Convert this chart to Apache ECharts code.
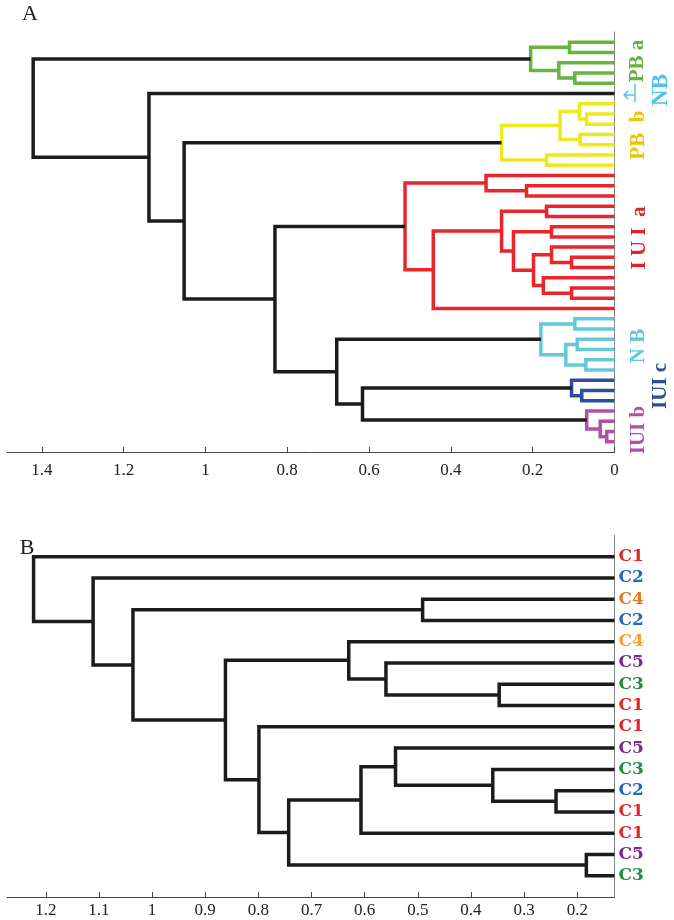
<!DOCTYPE html>
<html><head><meta charset="utf-8">
<script src="https://cdn.jsdelivr.net/npm/echarts@6/dist/echarts.min.js"></script>
<style>html,body{margin:0;padding:0;background:#fff}#c{width:674px;height:920px}</style>
</head><body><div id="c"></div>
<script>
// ---------- Panel A data (40 leaves, in display order top→bottom) ----------
const leafCountA = 40;
// merges: [childA, childB, height]; leaves are 1..40, merge k creates node 40+k
const mergesA = [
  [1, 2, 0.110], [4, 5, 0.097], [3, 42, 0.136], [41, 43, 0.205],            // PB a (41-44)
  [8, 9, 0.068], [7, 45, 0.086], [10, 11, 0.084], [46, 47, 0.133],
  [12, 13, 0.166], [48, 49, 0.276],                                          // PB b (45-50)
  [15, 16, 0.215], [14, 51, 0.314], [17, 18, 0.166], [19, 20, 0.154],
  [22, 23, 0.105], [21, 55, 0.154], [25, 26, 0.105], [24, 57, 0.174],
  [56, 58, 0.198], [54, 59, 0.247], [53, 60, 0.276], [61, 27, 0.443],
  [52, 62, 0.512],                                                           // IUI a (51-63)
  [28, 29, 0.097], [30, 31, 0.091], [32, 33, 0.070], [65, 66, 0.119],
  [64, 67, 0.180],                                                           // NB (64-68)
  [35, 36, 0.080], [34, 69, 0.105],                                          // IUI c (69-70)
  [39, 40, 0.019], [38, 71, 0.035], [37, 72, 0.068],                         // IUI b (71-73)
  [70, 73, 0.616], [68, 74, 0.679], [63, 75, 0.830], [50, 76, 1.052],
  [6, 77, 1.138], [44, 78, 1.421]                                            // above cut
];
const clusterA = [
  'PBa','PBa','PBa','PBa',
  'PBb','PBb','PBb','PBb','PBb','PBb',
  'IUIa','IUIa','IUIa','IUIa','IUIa','IUIa','IUIa','IUIa','IUIa','IUIa','IUIa','IUIa','IUIa',
  'NB','NB','NB','NB','NB',
  'IUIc','IUIc',
  'IUIb','IUIb','IUIb',
  '','','','','',''
];
const tickValuesA = [0, 0.2, 0.4, 0.6, 0.8, 1, 1.2, 1.4];
const rangeA = [0, 1.485];

// ---------- Panel B data (16 leaves) ----------
const leafNamesB = ['C1','C2','C4','C2','C4','C5','C3','C1','C1','C5','C3','C2','C1','C1','C5','C3'];
const leafClassB = ['c1','c2','c4','c2','c4b','c5','c3','c1','c1','c5','c3','c2','c1','c1','c5','c3'];
const mergesB = [
  [15, 16, 0.183], [12, 13, 0.240], [7, 8, 0.347], [11, 18, 0.359],
  [3, 4, 0.491], [10, 20, 0.542], [6, 19, 0.560], [22, 14, 0.607],
  [5, 23, 0.630], [24, 17, 0.743], [9, 26, 0.799], [25, 27, 0.862],
  [21, 28, 1.036], [2, 29, 1.111], [1, 30, 1.223]
];
const tickValuesB = [0.2, 0.3, 0.4, 0.5, 0.6, 0.7, 0.8, 0.9, 1, 1.1, 1.2];
const rangeB = [0.13, 1.273];

// ---------- styles ----------
const clusterColors = {
  '': '#1c1c1c', PBa: '#66b43e', PBb: '#ecea1e', IUIa: '#e8262c',
  NB: '#62c8da', IUIc: '#2c4c9c', IUIb: '#b050a8'
};
const clusterKeys = Object.keys(clusterColors);
const serif = "'Liberation Serif','Times New Roman',serif";

function buildSegments(n, merges, groups, base) {
  const pos = {};
  for (let i = 1; i <= n; i++) pos[i] = { y: i, h: base };
  const segs = [];
  merges.forEach((m, k) => {
    const a = pos[m[0]], b = pos[m[1]], h = m[2];
    pos[n + 1 + k] = { y: (a.y + b.y) / 2, h: h };
    const g = groups ? groups[k] : '';
    segs.push([a.h, a.y, h, b.y, b.h, clusterKeys.indexOf(g)]);
  });
  return segs;
}
const segA = buildSegments(leafCountA, mergesA, clusterA, rangeA[0]);
const segB = buildSegments(leafNamesB.length, mergesB, null, rangeB[0]);

function renderDendro(params, api) {
  const pts = [
    api.coord([api.value(0), api.value(1)]),
    api.coord([api.value(2), api.value(1)]),
    api.coord([api.value(2), api.value(3)]),
    api.coord([api.value(4), api.value(3)])
  ];
  return {
    type: 'polyline',
    shape: { points: pts },
    style: { stroke: clusterColors[clusterKeys[api.value(5)]], fill: null, lineWidth: 3.5, lineJoin: 'miter', lineCap: 'butt' }
  };
}

const richB = {};
const classColors = { c1: '#e3262b', c2: '#1f6db5', c3: '#1f8f45', c4: '#e8782a', c4b: '#f2a232', c5: '#7a2b8c' };
Object.keys(classColors).forEach(k => {
  richB[k] = { color: classColors[k], fontFamily: "'DejaVu Serif',serif", fontWeight: 'bold', fontSize: 17 };
});

function xAxisCfg(gi, range, ticks, margin) {
  return {
    gridIndex: gi, type: 'value', inverse: true, min: range[0], max: range[1],
    axisLine: { show: true, onZero: false, lineStyle: { color: '#444', width: 1 } },
    axisTick: { show: true, inside: true, length: 5, customValues: ticks, lineStyle: { color: '#444' } },
    axisLabel: { customValues: ticks, fontFamily: serif, fontSize: 17, color: '#222', margin: margin },
    splitLine: { show: false }
  };
}

const chart = echarts.init(document.getElementById('c'), null, { renderer: 'canvas' });

function vText(text, x, y, color, size) {
  return {
    type: 'text', x: x, y: y, rotation: Math.PI / 2,
    style: { text: text, fill: color, font: 'bold ' + size + 'px ' + serif, align: 'center', verticalAlign: 'middle' }
  };
}

chart.setOption({
  animation: false,
  backgroundColor: '#fff',
  grid: [
    { left: 7, right: 59.5, top: 32, bottom: 468 },
    { left: 7, right: 59.5, top: 535.4, bottom: 23 }
  ],
  xAxis: [xAxisCfg(0, rangeA, tickValuesA, 10), xAxisCfg(1, rangeB, tickValuesB, 5)],
  yAxis: [
    { gridIndex: 0, type: 'value', min: 0, max: leafCountA + 1, inverse: true, position: 'right',
      axisLine: { show: true, onZero: false, lineStyle: { color: '#888' } },
      axisTick: { show: false }, axisLabel: { show: false }, splitLine: { show: false } },
    { gridIndex: 1, type: 'value', min: 0, max: leafNamesB.length + 1, inverse: true, position: 'right',
      axisLine: { show: true, onZero: false, lineStyle: { color: '#888' } },
      axisTick: { show: false }, splitLine: { show: false },
      axisLabel: {
        customValues: leafNamesB.map((_, i) => i + 1), margin: 4,
        formatter: v => '{' + leafClassB[v - 1] + '|' + leafNamesB[v - 1] + '}',
        rich: richB
      } }
  ],
  series: [
    { type: 'custom', xAxisIndex: 0, yAxisIndex: 0, data: segA, renderItem: renderDendro,
      encode: { x: [0, 2, 4], y: [1, 3] }, silent: true },
    { type: 'custom', xAxisIndex: 1, yAxisIndex: 1, data: segB, renderItem: renderDendro,
      encode: { x: [0, 2, 4], y: [1, 3] }, silent: true }
  ],
  graphic: [
    { type: 'text', x: 30, y: 14, style: { text: 'A', font: '22px ' + serif, fill: '#222', align: 'center', verticalAlign: 'middle' } },
    { type: 'text', x: 27, y: 548, style: { text: 'B', font: '22px ' + serif, fill: '#222', align: 'center', verticalAlign: 'middle' } },
    vText('PB a', 638, 61, '#66b43e', 21),
    vText('NB', 661, 90, '#4ec4e6', 23),
    vText('PB  b', 639, 135, '#f2c200', 21),
    vText('I U I  a', 640, 238, '#e0222a', 21),
    vText('N B', 639, 346, '#5ec6e0', 21),
    vText('IUI c', 661, 386, '#2c4c9c', 21),
    vText('IUI b', 639, 430, '#b050a8', 21),
    { type: 'polyline', shape: { points: [[628, 91], [624, 95], [628, 99]] }, style: { stroke: '#4ec4e6', lineWidth: 1.5, fill: null } },
    { type: 'line', shape: { x1: 624, y1: 95, x2: 634, y2: 95 }, style: { stroke: '#4ec4e6', lineWidth: 1.5 } },
    { type: 'line', shape: { x1: 635, y1: 84, x2: 635, y2: 102 }, style: { stroke: '#4ec4e6', lineWidth: 1.5 } }
  ]
});
</script>
</body></html>
